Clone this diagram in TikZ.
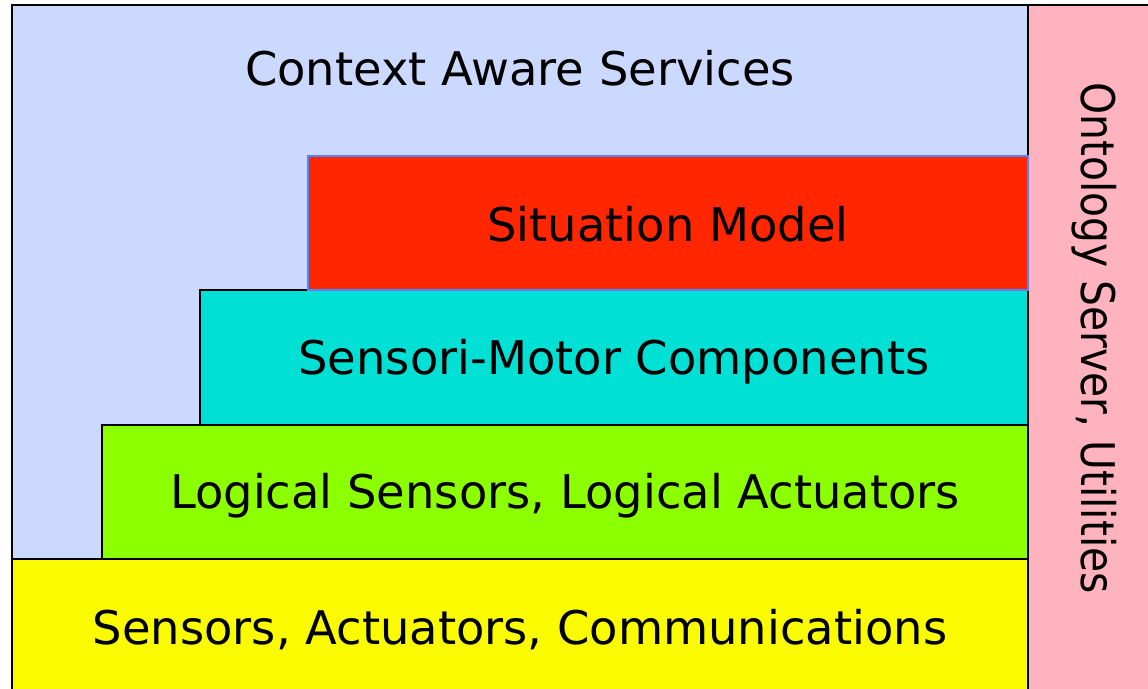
\documentclass[tikz,border=0pt]{standalone}
\usepackage{fontspec}
\setmainfont{DejaVu Sans}
\definecolor{servblue}{HTML}{CCD9FF}
\definecolor{ontopink}{HTML}{FFB3BE}
\definecolor{sitred}{HTML}{FF2600}
\definecolor{sitedge}{HTML}{5582FF}
\definecolor{smcyan}{HTML}{00E0D4}
\definecolor{loggreen}{HTML}{8CFF00}
\definecolor{sensyellow}{HTML}{FBFB00}
\tikzset{
  layer/.style={draw=black,line width=1pt},
  lbl/.style={font=\fontsize{23.2}{28}\selectfont,inner sep=0pt}
}
\begin{document}
\begin{tikzpicture}[x=0.5pt,y=-0.5pt]
            \useasboundingbox (0,0) rectangle (1148,689);
            \clip (0,0) rectangle (1148,689);
            % services and ontology columns
            \draw [layer,fill=servblue] (12,5) rectangle (1028,559);
            \node [lbl] (serv) at (520,68) {Context Aware Services};
            \draw [layer,fill=ontopink] (1028,5) rectangle (1160,700);
            \node [lbl,rotate=-90] (onto) at (1094,338) {\scalebox{0.88}[1]{Ontology Server, Utilities}};
            % stacked layers
            \draw [layer,fill=sensyellow] (12,559) rectangle (1028,700);
            \node [lbl] (sens) at (520,630) {Sensors, Actuators, Communications};
            \draw [layer,fill=loggreen] (102,425) rectangle (1028,559);
            \node [lbl] (logic) at (565,496) {Logical Sensors, Logical Actuators};
            \draw [layer,fill=smcyan] (200,290) rectangle (1028,425);
            \node [lbl] (motor) at (614,362) {Sensori-Motor Components};
            \draw [layer,draw=sitedge,fill=sitred] (308,156) rectangle (1028,290);
            \node [lbl] (sit) at (668,224) {Situation Model};
        \end{tikzpicture}
\end{document}
